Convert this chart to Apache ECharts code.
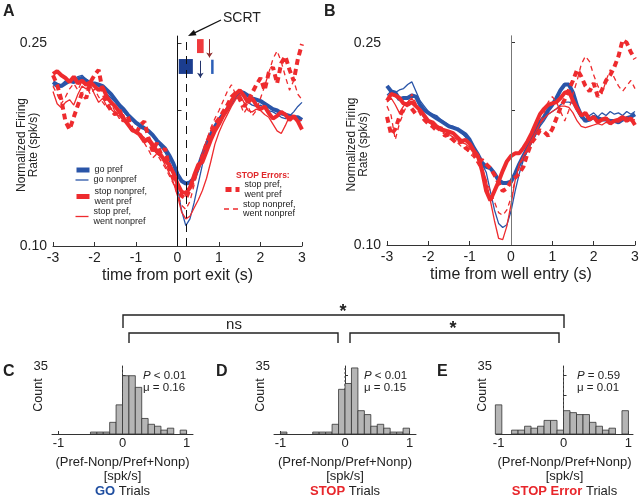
<!DOCTYPE html>
<html><head><meta charset="utf-8">
<script src="https://cdn.jsdelivr.net/npm/echarts@6/dist/echarts.min.js"></script>
<style>html,body{margin:0;padding:0;background:#fff}#c{width:640px;height:500px}</style>
</head><body><div id="c"></div>
<script>
// ---------- DATA ----------
const times = [-3.0,-2.9,-2.8,-2.7,-2.6,-2.5,-2.4,-2.3,-2.2,-2.1,
  -2.0,-1.9,-1.8,-1.7,-1.6,-1.5,-1.4,-1.3,-1.2,-1.1,
  -1.0,-0.9,-0.8,-0.7,-0.6,-0.5,-0.4,-0.3,-0.2,-0.1,
  0.0,0.1,0.2,0.3,0.4,0.5,0.6,0.7,0.8,0.9,
  1.0,1.1,1.2,1.3,1.4,1.5,1.6,1.7,1.8,1.9,
  2.0,2.1,2.2,2.3,2.4,2.5,2.6,2.7,2.8,2.9,3.0];

// Panel A: aligned to port exit
const aGoPref = [0.221,0.219,0.218,0.220,0.222,0.221,0.223,0.224,0.222,0.220,
  0.220,0.219,0.218,0.215,0.212,0.208,0.204,0.201,0.197,0.194,
  0.191,0.189,0.187,0.185,0.182,0.178,0.175,0.172,0.167,0.161,
  0.153,0.148,0.146,0.147,0.150,0.158,0.167,0.175,0.182,0.188,
  0.193,0.197,0.201,0.206,0.211,0.214,0.213,0.211,0.209,0.208,
  0.207,0.205,0.203,0.201,0.200,0.198,0.197,0.196,0.195,0.195,0.193];
const aGoNonpref = [0.219,0.217,0.219,0.222,0.221,0.223,0.225,0.226,0.223,0.221,
  0.219,0.218,0.216,0.212,0.209,0.206,0.202,0.199,0.196,0.193,
  0.190,0.187,0.186,0.184,0.181,0.177,0.173,0.169,0.163,0.155,
  0.143,0.126,0.115,0.120,0.132,0.146,0.160,0.172,0.181,0.188,
  0.193,0.197,0.201,0.205,0.210,0.213,0.210,0.206,0.204,0.203,
  0.204,0.202,0.200,0.199,0.197,0.195,0.194,0.196,0.199,0.203,0.206];
const aStopNonprefWentPref = [0.227,0.229,0.226,0.224,0.221,0.225,0.220,0.222,0.219,0.221,
  0.218,0.215,0.217,0.210,0.206,0.203,0.199,0.194,0.190,0.186,
  0.184,0.182,0.177,0.179,0.175,0.170,0.167,0.163,0.160,0.154,
  0.146,0.140,0.139,0.143,0.152,0.160,0.162,0.170,0.178,0.185,
  0.190,0.196,0.201,0.207,0.212,0.215,0.211,0.206,0.209,0.204,
  0.201,0.203,0.198,0.194,0.196,0.199,0.197,0.193,0.196,0.192,0.186];
const aStopPrefWentNonpref = [0.214,0.205,0.202,0.206,0.208,0.204,0.212,0.218,0.216,0.219,
  0.212,0.206,0.209,0.203,0.201,0.198,0.196,0.193,0.190,0.187,
  0.185,0.182,0.180,0.177,0.172,0.168,0.166,0.160,0.154,0.147,
  0.137,0.125,0.120,0.122,0.128,0.134,0.141,0.150,0.162,0.175,
  0.184,0.191,0.197,0.203,0.208,0.212,0.206,0.200,0.199,0.201,
  0.200,0.197,0.195,0.190,0.185,0.183,0.189,0.196,0.194,0.192,0.193];
const aErrPrefWentPref = [0.226,0.219,0.208,0.192,0.186,0.195,0.204,0.213,0.209,0.221,
  0.226,0.230,0.214,0.205,0.200,0.197,0.201,0.192,0.196,0.186,
  0.183,0.189,0.192,0.180,0.170,0.176,0.168,0.172,0.158,0.150,
  0.142,0.137,0.135,0.142,0.150,0.158,0.166,0.176,0.183,0.190,
  0.194,0.199,0.204,0.210,0.213,0.209,0.203,0.207,0.213,0.219,
  0.224,0.215,0.228,0.232,0.220,0.235,0.240,0.230,0.222,0.238,0.249];
const aErrNonprefWentNonpref = [0.218,0.212,0.205,0.210,0.216,0.220,0.215,0.222,0.218,0.212,
  0.216,0.210,0.206,0.202,0.205,0.199,0.194,0.197,0.190,0.187,
  0.184,0.180,0.176,0.171,0.165,0.168,0.163,0.158,0.152,0.146,
  0.138,0.130,0.127,0.133,0.145,0.156,0.168,0.178,0.187,0.194,
  0.200,0.207,0.214,0.219,0.212,0.206,0.198,0.203,0.196,0.200,
  0.209,0.218,0.228,0.238,0.244,0.236,0.225,0.215,0.222,0.212,0.208];

// Panel B: aligned to well entry
const bGoPref = [0.218,0.214,0.213,0.208,0.209,0.209,0.211,0.210,0.204,0.200,
  0.198,0.196,0.194,0.192,0.190,0.188,0.187,0.186,0.184,0.182,
  0.178,0.172,0.167,0.161,0.158,0.157,0.153,0.148,0.146,0.146,
  0.147,0.153,0.160,0.166,0.172,0.178,0.184,0.191,0.195,0.200,
  0.204,0.209,0.215,0.219,0.219,0.213,0.203,0.196,0.192,0.193,
  0.195,0.194,0.193,0.193,0.192,0.192,0.191,0.193,0.194,0.195,0.197];
const bGoNonpref = [0.211,0.214,0.213,0.215,0.216,0.219,0.221,0.214,0.207,0.203,
  0.199,0.197,0.196,0.193,0.191,0.189,0.188,0.186,0.183,0.180,
  0.176,0.170,0.165,0.160,0.154,0.140,0.126,0.116,0.113,0.115,
  0.125,0.140,0.153,0.163,0.170,0.176,0.182,0.188,0.192,0.197,
  0.199,0.201,0.204,0.206,0.206,0.205,0.199,0.194,0.193,0.196,
  0.198,0.195,0.198,0.196,0.199,0.197,0.198,0.196,0.199,0.197,0.199];
const bStopNonprefWentPref = [0.207,0.212,0.211,0.209,0.205,0.204,0.206,0.203,0.200,0.196,
  0.192,0.191,0.188,0.186,0.185,0.184,0.183,0.180,0.177,0.178,
  0.175,0.170,0.166,0.155,0.140,0.133,0.140,0.147,0.155,0.162,
  0.166,0.168,0.168,0.172,0.177,0.183,0.190,0.197,0.201,0.204,
  0.205,0.206,0.209,0.213,0.214,0.207,0.201,0.196,0.198,0.193,
  0.195,0.191,0.193,0.194,0.190,0.192,0.193,0.195,0.192,0.194,0.189];
const bStopPrefWentNonpref = [0.206,0.209,0.204,0.198,0.203,0.206,0.209,0.204,0.199,0.195,
  0.193,0.190,0.188,0.185,0.183,0.182,0.180,0.178,0.176,0.175,
  0.172,0.168,0.164,0.158,0.148,0.133,0.118,0.105,0.104,0.114,
  0.130,0.148,0.160,0.166,0.172,0.178,0.184,0.190,0.194,0.197,
  0.199,0.201,0.203,0.203,0.202,0.198,0.192,0.188,0.187,0.188,
  0.189,0.190,0.189,0.191,0.190,0.192,0.191,0.193,0.195,0.192,0.193];
const bErrPrefWentPref = [0.195,0.182,0.186,0.195,0.201,0.205,0.201,0.197,0.199,0.193,
  0.190,0.188,0.185,0.187,0.181,0.182,0.178,0.175,0.177,0.172,
  0.170,0.168,0.162,0.163,0.160,0.157,0.152,0.146,0.140,0.142,
  0.147,0.150,0.153,0.158,0.168,0.176,0.180,0.185,0.184,0.181,
  0.186,0.194,0.202,0.208,0.215,0.222,0.230,0.225,0.218,0.214,
  0.220,0.210,0.215,0.222,0.226,0.232,0.240,0.252,0.250,0.243,0.238];
const bErrNonprefWentNonpref = [0.203,0.196,0.178,0.190,0.198,0.205,0.212,0.205,0.199,0.194,
  0.191,0.189,0.186,0.184,0.182,0.179,0.177,0.176,0.173,0.171,
  0.168,0.165,0.160,0.155,0.148,0.140,0.132,0.124,0.122,0.126,
  0.135,0.148,0.158,0.165,0.170,0.176,0.183,0.190,0.198,0.206,
  0.210,0.206,0.199,0.192,0.200,0.212,0.222,0.234,0.240,0.236,
  0.226,0.218,0.212,0.222,0.230,0.224,0.218,0.214,0.218,0.222,0.216];

// timing markers in panel A (data units: seconds, normalized rate)
const scrtTime = 0.21;
const goRtBox = [0.03, 0.37, 0.227, 0.238];
const stopRtBox = [0.47, 0.63, 0.2424, 0.2527];
const goSsrtBox = [0.81, 0.87, 0.227, 0.2375];
const goArrow = [0.55, 0.2367, 0.2242];
const stopArrow = [0.77, 0.2527, 0.2392];

// histograms (bin start, counts), bin width 0.1
const binWidth = 0.1;
const cBins = [-0.5,-0.4,-0.3,-0.2,-0.1,0.0,0.1,0.2,0.3,0.4,0.5,0.6,0.7,0.9];
const cCounts = [1,1,1,6,15,30,30,24,8,5,4,2,3,2];
const dBins = [-1.0,-0.5,-0.4,-0.3,-0.2,-0.1,0.0,0.1,0.2,0.3,0.4,0.5,0.6,0.7,0.8,0.9];
const dCounts = [1,1,1,1,5,23,26,34,12,10,4,5,3,1,1,3];
const eBins = [-1.05,-0.8,-0.7,-0.6,-0.5,-0.4,-0.3,-0.2,-0.1,0.0,0.1,0.2,0.3,0.4,0.5,0.6,0.7,0.9];
const eCounts = [15,2,2,4,3,4,7,7,2,12,11,10,10,6,4,2,3,12];
const histStats = [['P < 0.01','μ = 0.16'],['P < 0.01','μ = 0.15'],['P = 0.59','μ = 0.01']];

// ---------- STYLE ----------
const FONT = 'Arial, "Liberation Sans", Helvetica, sans-serif';
const BLUE = '#2a55a8', RED = '#ee2b2e', NAVY = '#1b3d8f';
const names = ['go pref','go nonpref','stop nonpref,\nwent pref','stop pref,\nwent nonpref','stop pref,\nwent pref','stop nonpref,\nwent nonpref'];
const styles = [
  {color:BLUE,width:4,type:'solid'},
  {color:BLUE,width:1.3,type:'solid'},
  {color:RED,width:4,type:'solid'},
  {color:RED,width:1.3,type:'solid'},
  {color:RED,width:4,type:[6,4]},
  {color:RED,width:1.3,type:[5,4]}
];
const zs = [2,2,3,3,4,4];

function lineSeries(k, vals, gi, extra){
  return Object.assign({
    type:'line', name:names[k], xAxisIndex:gi, yAxisIndex:gi,
    data: times.map((t,i)=>[t, vals[i]]),
    symbol:'none', showSymbol:false, animation:false, z:zs[k],
    lineStyle: styles[k], itemStyle:{color:styles[k].color}
  }, extra||{});
}

function histRender(params, api){
  const x0 = api.value(0), c = api.value(1), w = api.value(2);
  const p0 = api.coord([x0, c]), p1 = api.coord([x0 + w, 0]);
  return {type:'rect', shape:{x:p0[0], y:p0[1], width:p1[0]-p0[0], height:p1[1]-p0[1]},
    style:{fill:'#b5b5b5', stroke:'#333', lineWidth:0.8}};
}
function histSeries(bins, counts, gi){
  return {type:'custom', xAxisIndex:gi, yAxisIndex:gi, renderItem:histRender, animation:false, z:3,
    data: bins.map((b,i)=>[b, counts[i], binWidth])};
}
function zeroDotted(gi){
  return {type:'line', xAxisIndex:gi, yAxisIndex:gi, data:[[0,0],[0,35]], symbol:'none', animation:false, z:1,
    lineStyle:{color:'#555', width:1, type:[2,2]}, silent:true};
}

const axisLine = {show:true, lineStyle:{color:'#333', width:1}};
function timeX(gi, name){
  return {type:'value', gridIndex:gi, min:-3, max:3, interval:1,
    axisLine, axisTick:{show:true, inside:true, length:4, lineStyle:{color:'#333'}},
    axisLabel:{fontSize:14, fontFamily:FONT, color:'#222', margin:5},
    splitLine:{show:false}, name, nameLocation:'middle', nameGap:22, nameMoveOverlap:false,
    nameTextStyle:{fontSize:16, fontFamily:FONT, color:'#222'}};
}
function rateY(gi, gap){
  return {type:'value', gridIndex:gi, min:0.1, max:0.255,
    axisLine, axisTick:{show:true, inside:true, length:4, lineStyle:{color:'#333'}, customValues:[0.1,0.15,0.2,0.25]},
    axisLabel:{fontSize:14, fontFamily:FONT, color:'#222', margin:6, customValues:[0.1,0.25], formatter:v=>v.toFixed(2)},
    splitLine:{show:false}, name:'Normalized Firing\nRate (spk/s)', nameLocation:'middle', nameGap:gap, nameRotate:90,
    nameMoveOverlap:false,
    nameTextStyle:{fontSize:12, lineHeight:12.5, fontFamily:FONT, color:'#222', padding:[0,8,0,0]}};
}
function histX(gi, min, max, word){
  return {type:'value', gridIndex:gi, min, max,
    axisLine, axisTick:{show:true, inside:true, length:3, lineStyle:{color:'#333'}, customValues:[-1,0,1]},
    axisLabel:{fontSize:13, fontFamily:FONT, color:'#222', margin:3, customValues:[-1,0,1]},
    splitLine:{show:false}, nameMoveOverlap:false,
    name:'(Pref-Nonp/Pref+Nonp)\n[spk/s]\n{b|'+word+'} Trials', nameLocation:'middle', nameGap:21,
    nameTextStyle:{fontSize:13, lineHeight:14.5, fontFamily:FONT, color:'#222',
      rich:{b:{fontSize:13, fontFamily:FONT, fontWeight:'bold', color: word==='GO' ? '#1f4ea0' : '#e8262b'}}}};
}
function histY(gi){
  return {type:'value', gridIndex:gi, min:0, max:35,
    axisLine, axisTick:{show:true, inside:true, length:3, lineStyle:{color:'#333'}, customValues:[10,20,30]},
    axisLabel:{fontSize:13, fontFamily:FONT, color:'#222', margin:4, customValues:[35]},
    splitLine:{show:false}, name:'Count', nameLocation:'middle', nameGap:7, nameRotate:90, nameMoveOverlap:false,
    nameTextStyle:{fontSize:12.5, fontFamily:FONT, color:'#222', padding:[0,0,0,10]}};
}

const grids = [
  {left:53, top:36, width:249, height:210},
  {left:387, top:36, width:248, height:209},
  {left:52, top:366, width:141, height:68},
  {left:274, top:366, width:142, height:68},
  {left:496, top:366, width:137, height:68}
].map(g=>Object.assign({outerBoundsMode:'none', containLabel:false}, g));

const series = [
  lineSeries(0, aGoPref, 0, {
    markLine:{silent:true, symbol:['none','none'], label:{show:false}, animation:false,
      data:[
        [{coord:[0,0.1], lineStyle:{color:'#111', width:1, type:'solid'}},{coord:[0,0.255]}],
        [{coord:[scrtTime,0.1], lineStyle:{color:'#111', width:1, type:[8,6]}},{coord:[scrtTime,0.255]}],
        [{coord:[goArrow[0],goArrow[1]], symbol:'none', lineStyle:{color:'#23336b', width:1, type:'solid'}},{coord:[goArrow[0],goArrow[2]], symbol:'arrow', symbolSize:5}],
        [{coord:[stopArrow[0],stopArrow[1]], symbol:'none', lineStyle:{color:'#8e2a2a', width:1, type:'solid'}},{coord:[stopArrow[0],stopArrow[2]], symbol:'arrow', symbolSize:5}]
      ]},
    markArea:{silent:true, label:{show:false}, animation:false,
      data:[
        [{coord:[goRtBox[0],goRtBox[3]], itemStyle:{color:NAVY, opacity:1}},{coord:[goRtBox[1],goRtBox[2]]}],
        [{coord:[stopRtBox[0],stopRtBox[3]], itemStyle:{color:'#f03a3d', opacity:1}},{coord:[stopRtBox[1],stopRtBox[2]]}],
        [{coord:[goSsrtBox[0],goSsrtBox[3]], itemStyle:{color:'#2b5fb8', opacity:1}},{coord:[goSsrtBox[1],goSsrtBox[2]]}]
      ]}
  }),
  lineSeries(1, aGoNonpref, 0),
  lineSeries(2, aStopNonprefWentPref, 0),
  lineSeries(3, aStopPrefWentNonpref, 0),
  lineSeries(4, aErrPrefWentPref, 0),
  lineSeries(5, aErrNonprefWentNonpref, 0),
  lineSeries(0, bGoPref, 1, {
    markLine:{silent:true, symbol:['none','none'], label:{show:false}, animation:false,
      data:[[{coord:[0,0.1], lineStyle:{color:'#777', width:1, type:'solid'}},{coord:[0,0.255]}]]}
  }),
  lineSeries(1, bGoNonpref, 1),
  lineSeries(2, bStopNonprefWentPref, 1),
  lineSeries(3, bStopPrefWentNonpref, 1),
  lineSeries(4, bErrPrefWentPref, 1),
  lineSeries(5, bErrNonprefWentNonpref, 1),
  zeroDotted(2), zeroDotted(3), zeroDotted(4),
  histSeries(cBins, cCounts, 2),
  histSeries(dBins, dCounts, 3),
  histSeries(eBins, eCounts, 4)
];

function txt(x, y, text, opt){
  return {type:'text', x, y, silent:true, z:10,
    style:Object.assign({text, fontFamily:FONT, fontSize:12, fill:'#222', align:'left', verticalAlign:'middle'}, opt||{})};
}
function bracket(pts){
  return {type:'polyline', silent:true, z:10, shape:{points:pts}, style:{stroke:'#222', lineWidth:1.4, fill:null}};
}
const statX = [143, 364, 577];
const graphics = [
  txt(3, 12, 'A', {fontSize:16, fontWeight:'bold'}),
  txt(324, 12, 'B', {fontSize:16, fontWeight:'bold'}),
  txt(3, 372, 'C', {fontSize:16, fontWeight:'bold'}),
  txt(216, 372, 'D', {fontSize:16, fontWeight:'bold'}),
  txt(437, 372, 'E', {fontSize:16, fontWeight:'bold'}),
  txt(223, 18, 'SCRT', {fontSize:14}),
  {type:'line', silent:true, z:10, shape:{x1:221, y1:20, x2:193, y2:33.6}, style:{stroke:'#111', lineWidth:1.3}},
  {type:'polygon', silent:true, z:10, shape:{points:[[188,36],[196.5,35.2],[193.9,29.8]]}, style:{fill:'#111'}},
  txt(236, 176, 'STOP Errors:', {fontSize:8.5, fontWeight:'bold', fill:'#e0282b'}),
  bracket([[123,328],[123,315],[564,315],[564,328]]),
  bracket([[129,343],[129,333],[338,333],[338,343]]),
  bracket([[350,343],[350,333],[559,333],[559,343]]),
  txt(343, 312, '*', {fontSize:18, fontWeight:'bold', align:'center'}),
  txt(453, 329, '*', {fontSize:18, fontWeight:'bold', align:'center'}),
  txt(234, 324.5, 'ns', {fontSize:15, align:'center'})
];
histStats.forEach((s,i)=>{
  const parts = s[0].split(' ');
  graphics.push({type:'text', x:statX[i], y:376, silent:true, z:10,
    style:{text:'{i|'+parts[0]+'} '+parts.slice(1).join(' '), fontFamily:FONT, fontSize:11.5, fill:'#222', verticalAlign:'middle',
      rich:{i:{fontStyle:'italic', fontFamily:FONT, fontSize:11.5, fill:'#222'}}}});
  graphics.push(txt(statX[i], 388, s[1], {fontSize:11.5}));
});

// one legend component per entry so each sits exactly where the reference puts it
const legendSpots = [[74,172],[74,182],[74,196.5],[74,216.5],[223,190],[223,209.5]];
const LEG_H = 20;
const legends = names.map((n,k)=>({
  data:[n], orient:'vertical', left:legendSpots[k][0], top:legendSpots[k][1]-LEG_H/2, padding:0,
  itemWidth: k>=4 ? 14 : 13, itemHeight:LEG_H, itemGap:0, selectedMode:false,
  itemStyle:{opacity:0},
  lineStyle:{width: k%2===0 ? 5 : 1.3, type: styles[k].type, color: styles[k].color},
  textStyle:{fontSize:9, lineHeight: k>=4 ? 9.5 : 10, fontFamily:FONT, color:'#222'}
}));

const chart = echarts.init(document.getElementById('c'), null, {renderer:'canvas'});
chart.setOption({
  animation:false,
  backgroundColor:'#fff',
  textStyle:{fontFamily:FONT},
  grid: grids,
  xAxis:[timeX(0,'time from port exit (s)'), timeX(1,'time from well entry (s)'),
    histX(2,-1.1,1.1,'GO'), histX(3,-1.1,1.1,'STOP'), histX(4,-1.04,1.07,'STOP Error')],
  yAxis:[rateY(0,13), rateY(1,17), histY(2), histY(3), histY(4)],
  legend: legends,
  series,
  graphic: graphics
});
</script></body></html>
